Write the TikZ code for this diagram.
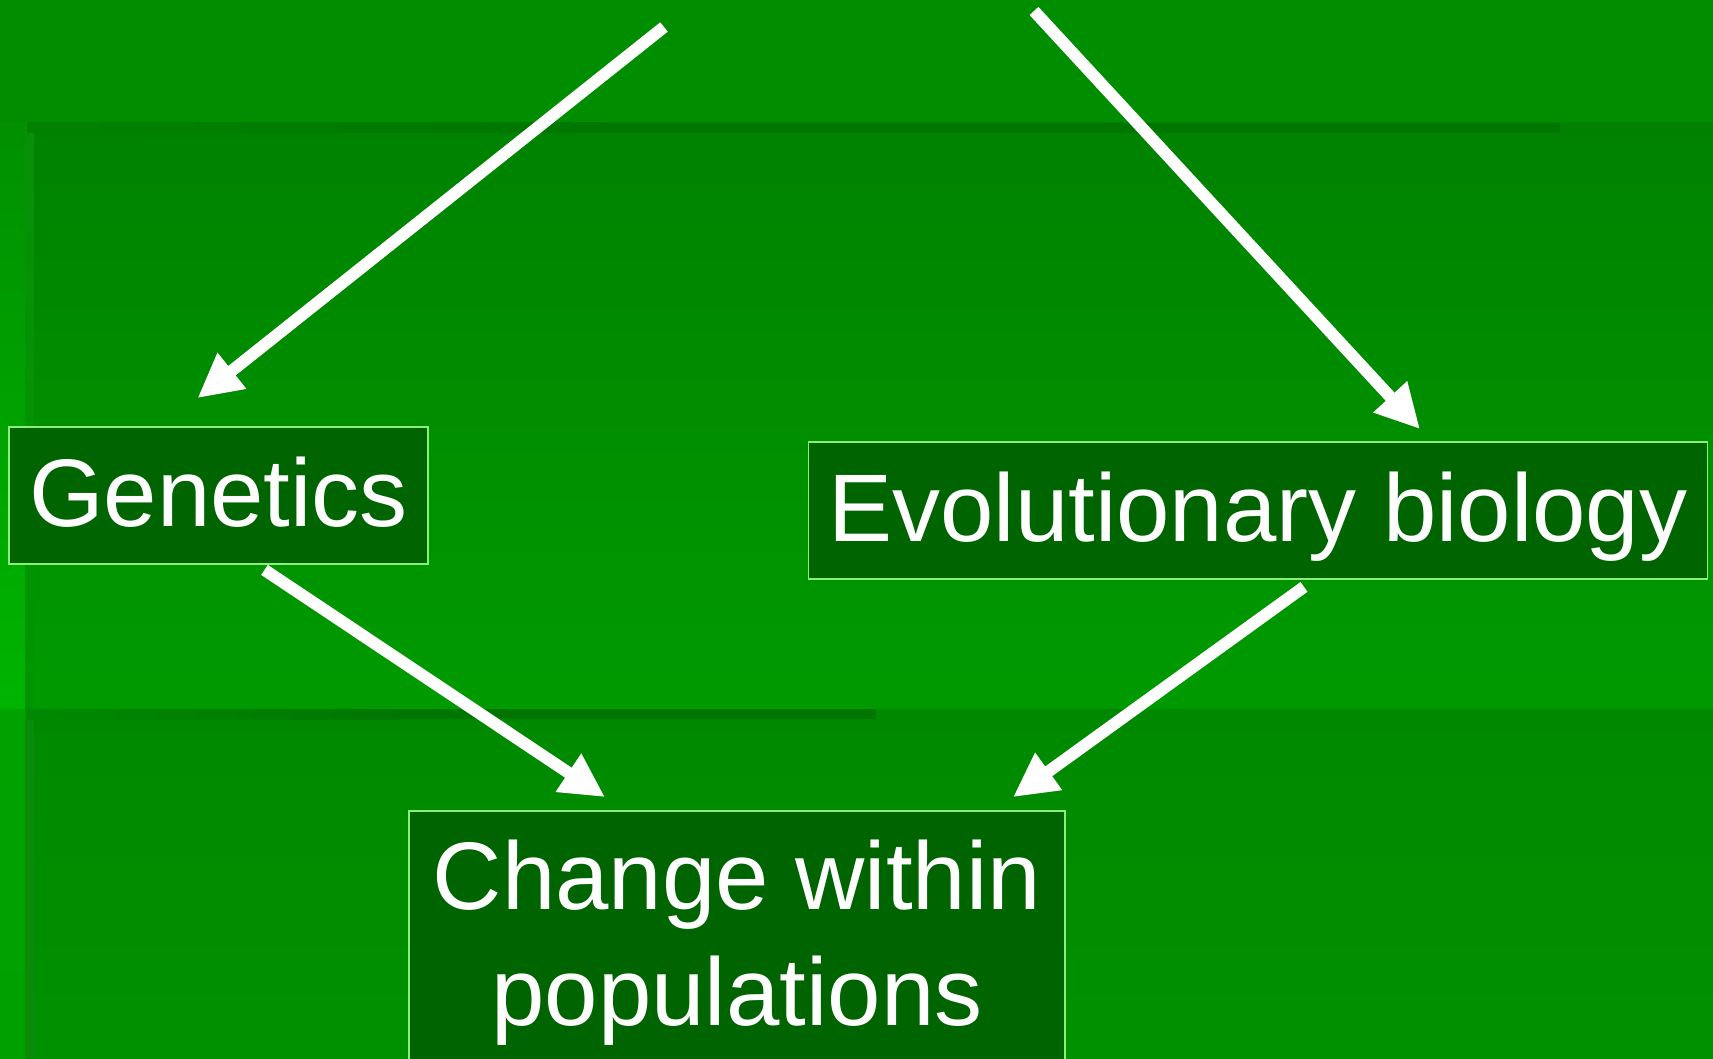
\documentclass[tikz,border=0pt]{standalone}
\usepackage{fontspec}
\setmainfont{Liberation Sans}
\usetikzlibrary{arrows.meta}

% backdrop greens
\definecolor{bandtop}{RGB}{0,142,0}
\definecolor{midtop}{RGB}{0,130,0}
\definecolor{midbot}{RGB}{0,154,0}
\definecolor{lowtop}{RGB}{0,137,0}
\definecolor{lowbot}{RGB}{0,145,0}
\definecolor{sidetop}{RGB}{0,144,0}
\definecolor{sidemid}{RGB}{0,180,0}
\definecolor{sidelow}{RGB}{0,162,0}
\definecolor{sidebot}{RGB}{0,160,0}
\definecolor{bevelA}{RGB}{8,143,8}
\definecolor{bevelB}{RGB}{0,149,0}
\definecolor{bevelC}{RGB}{10,140,10}
\definecolor{ridge}{RGB}{0,118,0}
% boxes
\definecolor{boxfill}{RGB}{0,100,0}
\definecolor{boxline}{RGB}{140,240,120}

\tikzset{
  box/.style={draw=boxline, line width=1.8pt, fill=boxfill, text=white,
    inner sep=0pt, font=\fontsize{96}{116}\selectfont},
  arr/.style={draw=white, line width=12pt,
    -{Triangle[length=44pt,width=43pt]}}
}

\begin{document}
\begin{tikzpicture}[x=1pt,y=-1pt]
\useasboundingbox (0,0) rectangle (1713,1059);

% background panels
\fill[bandtop] (0,0) rectangle (1713,123);
\shade[top color=midtop, bottom color=midbot] (27,123) rectangle (1713,709);
\shade[top color=lowtop, bottom color=lowbot] (27,709) rectangle (1713,1059);
\shade[top color=sidetop, bottom color=sidemid] (0,123) rectangle (27,709);
\shade[top color=sidelow, bottom color=sidebot] (0,709) rectangle (27,1059);
\shade[top color=bevelA, bottom color=bevelB] (25,123) rectangle (34,709);
\fill[bevelC] (25,709) rectangle (34,1059);
% ridges under the panel edges
\shade[left color=midtop, right color=ridge] (27,123) rectangle (600,133);
\fill[ridge] (600,123) rectangle (1560,133);
\shade[left color=lowtop, right color=ridge] (27,709) rectangle (400,719);
\fill[ridge] (400,709) rectangle (876,719);

% boxes
\node[box, minimum width=419pt, minimum height=137pt,
      text height=62pt, text depth=0pt] (gen) at (218.5,495.5) {Genetics};
\node[box, minimum width=899pt, minimum height=137pt,
      text height=62pt, text depth=0pt] (evo) at (1258,510.5) {Evolutionary biology};
\node[box, minimum width=656pt, minimum height=264pt, align=center,
      text height=186pt, text depth=22pt] (chg) at (737,943)
      {Change within\\populations};

% connectors
\coordinate (srcL) at (664,27);
\coordinate (srcR) at (1034,11);
\draw[arr] (srcL) -- ([xshift=-21pt,yshift=28pt]gen.north);
\draw[arr] (srcR) -- ([xshift=162pt,yshift=12pt]evo.north);
\draw[arr] ([xshift=46pt,yshift=-5pt]gen.south) -- ([xshift=-132pt,yshift=13pt]chg.north);
\draw[arr] ([xshift=46pt,yshift=-7pt]evo.south) -- ([xshift=276pt,yshift=13pt]chg.north);
\end{tikzpicture}
\end{document}
